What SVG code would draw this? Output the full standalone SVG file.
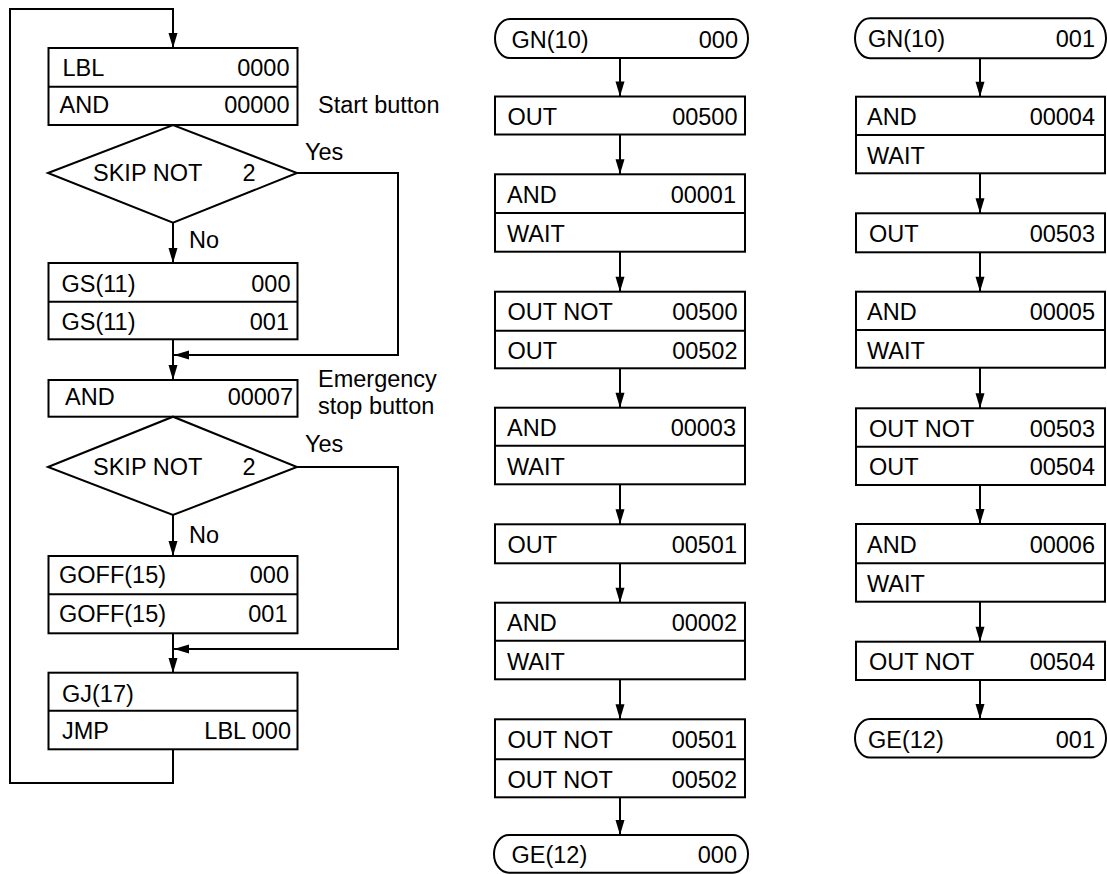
<svg xmlns="http://www.w3.org/2000/svg" width="1107" height="874" viewBox="0 0 1107 874">
<style>
text{font-family:"Liberation Sans",Arial,Helvetica,sans-serif;font-size:23.5px;fill:#000}
.e{text-anchor:end}
.b{fill:#fff;stroke:#000;stroke-width:2}
.d{stroke:#000;stroke-width:2;fill:none}
.c{stroke:#000;stroke-width:2;fill:none}
.a{marker-end:url(#ah)}
</style>
<defs>
<marker id="ah" markerUnits="userSpaceOnUse" markerWidth="16" markerHeight="10" refX="15" refY="4.5" orient="auto" overflow="visible">
<path d="M0,0 L15,4.5 L0,9 z" fill="#000"/>
</marker>
</defs>
<rect width="1107" height="874" fill="#fff"/>

<g id="connectors">
<!-- left column -->
<polyline class="c a" points="173,750 173,783 10,783 10,9 173,9 173,48"/>
<line class="c a" x1="173" y1="223" x2="173" y2="263"/>
<polyline class="c a" points="297,173 398,173 398,355 174,355"/>
<line class="c a" x1="173" y1="339" x2="173" y2="380"/>
<line class="c a" x1="173" y1="515" x2="173" y2="556"/>
<polyline class="c a" points="297,467 398,467 398,649 174,649"/>
<line class="c a" x1="173" y1="633" x2="173" y2="673"/>
<!-- middle column -->
<line class="c a" x1="620" y1="58" x2="620" y2="96.5"/>
<line class="c a" x1="620" y1="134.5" x2="620" y2="174.3"/>
<line class="c a" x1="620" y1="251.7" x2="620" y2="291.7"/>
<line class="c a" x1="620" y1="368.3" x2="620" y2="407.7"/>
<line class="c a" x1="620" y1="484.3" x2="620" y2="524.3"/>
<line class="c a" x1="620" y1="563.3" x2="620" y2="602.7"/>
<line class="c a" x1="620" y1="679.3" x2="620" y2="719.3"/>
<line class="c a" x1="620" y1="797.3" x2="620" y2="835"/>
<!-- right column -->
<line class="c a" x1="980" y1="58.3" x2="980" y2="96.7"/>
<line class="c a" x1="980" y1="173.3" x2="980" y2="213.3"/>
<line class="c a" x1="980" y1="252.3" x2="980" y2="291.7"/>
<line class="c a" x1="980" y1="367.7" x2="980" y2="408.3"/>
<line class="c a" x1="980" y1="485" x2="980" y2="524"/>
<line class="c a" x1="980" y1="601.7" x2="980" y2="641.7"/>
<line class="c a" x1="980" y1="680" x2="980" y2="719"/>
</g>

<!-- left column nodes -->
<g id="n-lbl">
<rect class="b" x="48.5" y="48" width="249" height="77"/>
<line class="d" x1="48.5" y1="86.7" x2="297.5" y2="86.7"/>
<text x="62.5" y="75.7">LBL</text><text class="e" x="289.5" y="75.7">0000</text>
<text x="59.5" y="113.3">AND</text><text class="e" x="289.5" y="113.3">00000</text>
</g>
<g id="lbl-start"><text x="318" y="113">Start button</text></g>
<g id="n-skip1">
<polygon class="b" points="48,173 173,125 297,173 173,222.7"/>
<text x="93" y="181">SKIP NOT</text><text x="242.5" y="181">2</text>
</g>
<g id="lbl-yes1"><text x="305" y="160">Yes</text></g>
<g id="lbl-no1"><text x="189" y="248">No</text></g>
<g id="n-gs">
<rect class="b" x="48.5" y="263" width="249" height="76.3"/>
<line class="d" x1="48.5" y1="301.7" x2="297.5" y2="301.7"/>
<text x="61.5" y="291.7">GS(11)</text><text class="e" x="290.5" y="291.7">000</text>
<text x="61.5" y="330">GS(11)</text><text class="e" x="289" y="330">001</text>
</g>
<g id="n-and7">
<rect class="b" x="48.5" y="380" width="249" height="36.7"/>
<text x="65" y="405">AND</text><text class="e" x="293" y="405">00007</text>
</g>
<g id="lbl-estop"><text x="318" y="386.5">Emergency</text><text x="318" y="413.5">stop button</text></g>
<g id="n-skip2">
<polygon class="b" points="48,467 173,416.7 297,467 173,515"/>
<text x="93" y="475">SKIP NOT</text><text x="242.5" y="475">2</text>
</g>
<g id="lbl-yes2"><text x="305" y="452">Yes</text></g>
<g id="lbl-no2"><text x="189" y="542.7">No</text></g>
<g id="n-goff">
<rect class="b" x="48.5" y="556" width="249" height="77.3"/>
<line class="d" x1="48.5" y1="594.3" x2="297.5" y2="594.3"/>
<text x="59" y="582.7">GOFF(15)</text><text class="e" x="289" y="582.7">000</text>
<text x="59" y="621.7">GOFF(15)</text><text class="e" x="287.5" y="621.7">001</text>
</g>
<g id="n-gj">
<rect class="b" x="48.5" y="672.7" width="249" height="76.6"/>
<line class="d" x1="48.5" y1="710.7" x2="297.5" y2="710.7"/>
<text x="62" y="701.7">GJ(17)</text>
<text x="62" y="739.3">JMP</text><text class="e" x="291" y="739.3">LBL 000</text>
</g>

<!-- middle column nodes -->
<g id="m-gn">
<rect class="b" x="495" y="19" width="253" height="39" rx="15" ry="19.5"/>
<text x="511.5" y="47.5">GN(10)</text><text class="e" x="738" y="47.5">000</text>
</g>
<g id="m-out500">
<rect class="b" x="495" y="96.5" width="250" height="38"/>
<text x="507.5" y="125">OUT</text><text class="e" x="737.5" y="125">00500</text>
</g>
<g id="m-and1">
<rect class="b" x="495" y="174.3" width="250" height="77.4"/>
<line class="d" x1="495" y1="213" x2="745" y2="213"/>
<text x="507" y="203">AND</text><text class="e" x="736" y="203">00001</text>
<text x="507" y="241.5">WAIT</text>
</g>
<g id="m-outnot500">
<rect class="b" x="495" y="291.7" width="250" height="76.6"/>
<line class="d" x1="495" y1="330.7" x2="745" y2="330.7"/>
<text x="507.5" y="320.2">OUT NOT</text><text class="e" x="737.5" y="320.2">00500</text>
<text x="507.5" y="359">OUT</text><text class="e" x="737.5" y="359">00502</text>
</g>
<g id="m-and3">
<rect class="b" x="495" y="407.7" width="250" height="76.6"/>
<line class="d" x1="495" y1="445.7" x2="745" y2="445.7"/>
<text x="507" y="436.2">AND</text><text class="e" x="736" y="436.2">00003</text>
<text x="507" y="474.5">WAIT</text>
</g>
<g id="m-out501">
<rect class="b" x="495" y="524.3" width="250" height="39"/>
<text x="507.5" y="553">OUT</text><text class="e" x="737" y="553">00501</text>
</g>
<g id="m-and2">
<rect class="b" x="495" y="602.7" width="250" height="76.6"/>
<line class="d" x1="495" y1="640.7" x2="745" y2="640.7"/>
<text x="507" y="631.2">AND</text><text class="e" x="737" y="631.2">00002</text>
<text x="507" y="669.5">WAIT</text>
</g>
<g id="m-outnot501">
<rect class="b" x="495" y="719.3" width="250" height="78"/>
<line class="d" x1="495" y1="759.3" x2="745" y2="759.3"/>
<text x="507.5" y="748.3">OUT NOT</text><text class="e" x="737" y="748.3">00501</text>
<text x="507.5" y="787.5">OUT NOT</text><text class="e" x="737" y="787.5">00502</text>
</g>
<g id="m-ge">
<rect class="b" x="494" y="835" width="254" height="37.7" rx="15" ry="18.8"/>
<text x="511.5" y="863.3">GE(12)</text><text class="e" x="737" y="863.3">000</text>
</g>

<!-- right column nodes -->
<g id="r-gn">
<rect class="b" x="855" y="18.3" width="251" height="40" rx="15" ry="20"/>
<text x="868" y="47">GN(10)</text><text class="e" x="1095" y="47">001</text>
</g>
<g id="r-and4">
<rect class="b" x="856" y="96.7" width="249" height="76.6"/>
<line class="d" x1="856" y1="135" x2="1105" y2="135"/>
<text x="867" y="125">AND</text><text class="e" x="1095" y="125">00004</text>
<text x="867" y="163.5">WAIT</text>
</g>
<g id="r-out503">
<rect class="b" x="856" y="213.3" width="249" height="39"/>
<text x="869" y="242">OUT</text><text class="e" x="1095" y="242">00503</text>
</g>
<g id="r-and5">
<rect class="b" x="856" y="291.7" width="249" height="76"/>
<line class="d" x1="856" y1="330" x2="1105" y2="330"/>
<text x="867" y="320">AND</text><text class="e" x="1095" y="320">00005</text>
<text x="867" y="358.5">WAIT</text>
</g>
<g id="r-outnot503">
<rect class="b" x="856" y="408.3" width="249" height="76.7"/>
<line class="d" x1="856" y1="446.7" x2="1105" y2="446.7"/>
<text x="869" y="437">OUT NOT</text><text class="e" x="1095" y="437">00503</text>
<text x="869" y="475.3">OUT</text><text class="e" x="1095" y="475.3">00504</text>
</g>
<g id="r-and6">
<rect class="b" x="856" y="524" width="249" height="77.7"/>
<line class="d" x1="856" y1="563.3" x2="1105" y2="563.3"/>
<text x="867" y="552.7">AND</text><text class="e" x="1095" y="552.7">00006</text>
<text x="867" y="591.8">WAIT</text>
</g>
<g id="r-outnot504">
<rect class="b" x="856" y="641.7" width="249" height="38.3"/>
<text x="869" y="670">OUT NOT</text><text class="e" x="1095" y="670">00504</text>
</g>
<g id="r-ge">
<rect class="b" x="855" y="719" width="251" height="38.5" rx="15" ry="19.2"/>
<text x="868" y="747.5">GE(12)</text><text class="e" x="1095" y="747.5">001</text>
</g>
</svg>
